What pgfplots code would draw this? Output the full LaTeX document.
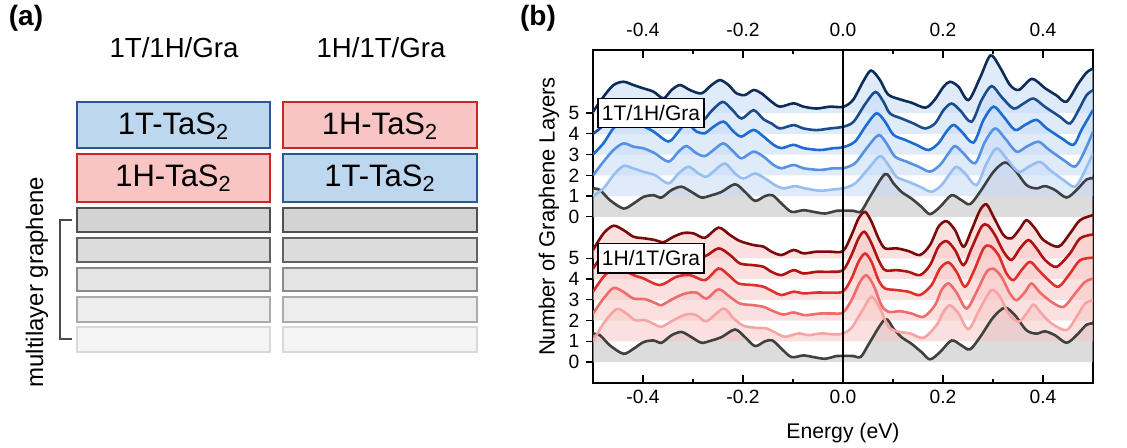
\documentclass[border=0pt]{standalone}
\usepackage{fontspec}
\setmainfont{Liberation Sans}
\usepackage{pgfplots}
\pgfplotsset{compat=1.18}
\usepackage{pgfplotstable}

\definecolor{bA}{HTML}{0E2C58}
\definecolor{bB}{HTML}{1B4C8C}
\definecolor{bC}{HTML}{1C6CD2}
\definecolor{bD}{HTML}{5592E4}
\definecolor{bE}{HTML}{95BFF1}
\definecolor{rA}{HTML}{7A0A0A}
\definecolor{rB}{HTML}{B01212}
\definecolor{rC}{HTML}{E0302C}
\definecolor{rD}{HTML}{EE6C6C}
\definecolor{rE}{HTML}{F7A4A4}
\definecolor{gline}{HTML}{404040}
\definecolor{bfill}{HTML}{C6DBF6}
\definecolor{rfill}{HTML}{F8C6C6}
\definecolor{gfill}{HTML}{C4C4C4}
\definecolor{tbox}{HTML}{BDD7EE}
\definecolor{tedge}{HTML}{2F5597}
\definecolor{hbox}{HTML}{F8C4C4}
\definecolor{hedge}{HTML}{C62828}
\definecolor{fa}{HTML}{D3D3D3}\definecolor{da}{HTML}{505050}
\definecolor{fb}{HTML}{DCDCDC}\definecolor{db}{HTML}{626262}
\definecolor{fc}{HTML}{E4E4E4}\definecolor{dc}{HTML}{8A8A8A}
\definecolor{fd}{HTML}{EDEDED}\definecolor{dd}{HTML}{ABABAB}
\definecolor{fe}{HTML}{F5F5F5}\definecolor{de}{HTML}{D8D8D8}

% projected DOS, value above each curve's baseline (in layer units)
\pgfplotstableread{
x r
-0.500 1.37
-0.486 1.29
-0.466 0.80
-0.439 0.40
-0.419 0.64
-0.399 0.96
-0.379 1.04
-0.363 0.93
-0.343 1.29
-0.323 1.45
-0.303 1.20
-0.283 0.93
-0.263 1.04
-0.243 1.20
-0.216 1.57
-0.196 1.20
-0.176 0.77
-0.156 1.00
-0.141 1.04
-0.123 0.64
-0.103 0.24
-0.079 0.32
-0.059 0.24
-0.036 0.16
-0.013 0.29
0.000 0.30
0.021 0.29
0.036 0.26
0.054 0.97
0.084 2.06
0.101 1.61
0.117 1.20
0.137 0.88
0.157 0.48
0.174 0.13
0.194 0.48
0.217 1.04
0.237 0.80
0.254 0.61
0.274 1.20
0.301 2.17
0.324 2.62
0.344 2.25
0.367 1.53
0.387 1.37
0.404 1.48
0.424 1.29
0.447 0.93
0.467 1.29
0.487 1.80
0.500 1.86
}\gra

\pgfplotstableread{
x r
-0.500 0.06
-0.479 0.79
-0.459 1.35
-0.439 1.51
-0.419 1.35
-0.399 1.19
-0.379 1.03
-0.359 0.71
-0.343 1.11
-0.326 1.35
-0.306 1.11
-0.283 0.95
-0.263 1.35
-0.246 1.59
-0.229 1.35
-0.213 0.95
-0.196 0.87
-0.179 1.11
-0.163 0.95
-0.143 0.55
-0.126 0.31
-0.099 0.47
-0.079 0.31
-0.053 0.22
-0.026 0.31
0.000 0.30
0.020 0.63
0.040 1.51
0.056 2.05
0.074 1.59
0.090 0.90
0.114 0.66
0.137 0.50
0.165 0.26
0.183 0.63
0.201 1.27
0.214 1.51
0.231 1.27
0.251 0.63
0.274 1.70
0.295 2.78
0.314 2.20
0.334 1.35
0.352 1.12
0.378 1.65
0.404 1.20
0.427 0.85
0.447 0.55
0.470 1.40
0.487 1.95
0.500 2.15
}\blueE

\pgfplotstableread{
x r
-0.500 0.00
-0.479 0.42
-0.459 1.15
-0.439 1.45
-0.419 1.35
-0.399 1.20
-0.379 1.00
-0.359 0.65
-0.343 1.00
-0.326 1.20
-0.306 0.95
-0.283 0.60
-0.263 1.10
-0.241 1.54
-0.223 1.20
-0.203 0.74
-0.179 1.14
-0.159 0.70
-0.143 0.50
-0.126 0.26
-0.099 0.42
-0.079 0.26
-0.053 0.18
-0.026 0.26
0.000 0.34
0.021 0.58
0.045 1.46
0.065 2.02
0.081 1.54
0.094 0.98
0.117 0.74
0.141 0.50
0.164 0.26
0.184 0.50
0.201 1.14
0.217 1.46
0.234 1.14
0.257 0.58
0.277 1.62
0.297 2.30
0.317 1.78
0.341 1.22
0.361 1.46
0.381 1.70
0.404 1.30
0.434 0.82
0.454 0.50
0.471 1.14
0.487 1.86
0.500 2.10
}\blueD

\pgfplotstableread{
x r
-0.500 0.00
-0.479 0.55
-0.459 1.27
-0.439 1.59
-0.419 1.43
-0.399 1.35
-0.379 1.11
-0.349 0.63
-0.329 1.11
-0.313 1.51
-0.293 1.11
-0.276 1.03
-0.263 1.27
-0.239 1.59
-0.219 1.11
-0.203 0.87
-0.179 1.19
-0.159 0.87
-0.139 0.47
-0.123 0.31
-0.099 0.47
-0.079 0.31
-0.046 0.22
-0.019 0.31
0.000 0.35
0.024 0.63
0.047 1.43
0.067 1.99
0.084 1.59
0.101 0.95
0.124 0.71
0.147 0.47
0.171 0.22
0.191 0.55
0.207 1.11
0.221 1.43
0.237 1.11
0.261 0.58
0.281 1.67
0.301 2.31
0.321 1.83
0.344 1.19
0.364 1.43
0.387 1.67
0.407 1.27
0.437 0.79
0.461 0.47
0.477 1.19
0.500 2.15
}\blueC

\pgfplotstableread{
x r
-0.500 0.00
-0.479 0.66
-0.459 1.22
-0.439 1.54
-0.419 1.38
-0.399 1.30
-0.376 1.06
-0.349 0.66
-0.329 1.14
-0.313 1.41
-0.293 1.06
-0.276 0.93
-0.259 1.22
-0.239 1.54
-0.219 1.14
-0.203 0.82
-0.179 1.14
-0.159 0.90
-0.139 0.50
-0.123 0.34
-0.099 0.50
-0.079 0.34
-0.046 0.26
-0.019 0.34
0.000 0.34
0.024 0.58
0.047 1.30
0.071 1.94
0.087 1.54
0.104 0.90
0.127 0.66
0.151 0.42
0.174 0.18
0.194 0.50
0.211 1.06
0.224 1.41
0.241 1.06
0.264 0.58
0.284 1.62
0.304 2.26
0.324 1.78
0.347 1.14
0.367 1.38
0.391 1.62
0.411 1.25
0.441 0.74
0.464 0.42
0.481 1.06
0.500 2.10
}\blueB

\pgfplotstableread{
x r
-0.500 0.00
-0.479 0.37
-0.459 1.01
-0.439 1.45
-0.419 1.33
-0.399 1.17
-0.376 1.01
-0.349 0.61
-0.329 1.09
-0.309 1.41
-0.289 1.09
-0.273 0.93
-0.256 1.25
-0.236 1.57
-0.216 1.09
-0.199 0.85
-0.176 1.09
-0.156 0.85
-0.136 0.53
-0.119 0.37
-0.096 0.48
-0.076 0.37
-0.046 0.26
-0.019 0.32
0.000 0.37
0.024 0.61
0.051 1.33
0.074 1.93
0.091 1.49
0.107 0.93
0.131 0.69
0.154 0.45
0.177 0.21
0.197 0.53
0.214 1.09
0.227 1.41
0.244 1.09
0.267 0.53
0.287 1.57
0.307 2.30
0.327 1.81
0.351 1.17
0.371 1.41
0.394 1.65
0.414 1.25
0.441 0.77
0.464 0.45
0.481 1.09
0.500 2.06
}\blueA

\pgfplotstableread{
x r
-0.500 0.40
-0.479 1.20
-0.459 1.57
-0.439 1.36
-0.419 1.04
-0.396 0.96
-0.376 0.88
-0.359 0.78
-0.339 1.04
-0.319 1.22
-0.299 1.20
-0.276 0.99
-0.249 1.48
-0.226 1.12
-0.206 0.83
-0.179 0.64
-0.159 0.56
-0.143 0.32
-0.123 0.16
-0.099 0.40
-0.079 0.24
-0.053 0.32
-0.026 0.32
0.000 0.35
0.017 1.12
0.031 1.92
0.044 2.24
0.057 1.76
0.071 0.96
0.084 0.48
0.107 0.48
0.131 0.35
0.154 0.16
0.174 0.64
0.191 1.52
0.207 1.79
0.224 1.36
0.241 0.56
0.257 1.36
0.274 2.32
0.287 2.60
0.301 2.00
0.321 1.12
0.337 0.96
0.354 1.44
0.367 1.84
0.384 1.44
0.401 0.88
0.431 0.56
0.454 1.20
0.474 1.84
0.500 2.08
}\redE

\pgfplotstableread{
x r
-0.500 0.50
-0.479 1.24
-0.459 1.58
-0.439 1.40
-0.419 1.12
-0.396 1.00
-0.376 0.90
-0.359 0.78
-0.339 1.00
-0.319 1.18
-0.299 1.20
-0.276 1.10
-0.249 1.48
-0.226 1.16
-0.206 0.75
-0.179 0.67
-0.159 0.59
-0.143 0.35
-0.123 0.19
-0.099 0.43
-0.079 0.27
-0.053 0.35
-0.026 0.35
0.000 0.43
0.017 1.16
0.031 1.96
0.043 2.28
0.057 1.72
0.071 0.92
0.084 0.43
0.107 0.43
0.131 0.35
0.154 0.19
0.174 0.67
0.191 1.56
0.207 1.83
0.224 1.40
0.241 0.67
0.257 1.48
0.277 2.52
0.289 2.60
0.304 2.12
0.321 1.32
0.337 0.92
0.354 1.48
0.371 1.88
0.387 1.48
0.404 0.92
0.427 0.59
0.454 1.24
0.474 1.96
0.500 2.15
}\redD

\pgfplotstableread{
x r
-0.500 0.39
-0.479 1.11
-0.459 1.51
-0.439 1.43
-0.419 1.19
-0.399 1.03
-0.366 0.71
-0.333 1.11
-0.306 1.19
-0.276 0.95
-0.249 1.51
-0.229 1.19
-0.209 0.79
-0.179 0.71
-0.159 0.63
-0.139 0.39
-0.123 0.23
-0.099 0.39
-0.079 0.31
-0.053 0.35
-0.026 0.35
0.000 0.40
0.017 1.03
0.031 1.83
0.044 2.23
0.057 1.83
0.071 0.95
0.084 0.55
0.107 0.47
0.131 0.39
0.154 0.23
0.177 0.71
0.194 1.51
0.211 1.80
0.227 1.35
0.244 0.63
0.261 1.35
0.281 2.47
0.294 2.60
0.311 2.15
0.327 1.27
0.341 0.95
0.357 1.43
0.374 1.83
0.391 1.43
0.411 0.95
0.431 0.63
0.454 1.27
0.474 1.91
0.500 2.03
}\redC

\pgfplotstableread{
x r
-0.500 0.34
-0.479 1.06
-0.459 1.57
-0.439 1.38
-0.419 1.06
-0.396 1.03
-0.373 0.82
-0.363 0.74
-0.339 1.06
-0.316 1.30
-0.293 1.35
-0.273 1.06
-0.249 1.51
-0.226 1.14
-0.206 0.82
-0.179 0.74
-0.159 0.66
-0.139 0.45
-0.119 0.29
-0.099 0.39
-0.076 0.26
-0.046 0.34
-0.019 0.34
0.000 0.39
0.017 0.98
0.034 1.86
0.047 2.18
0.061 1.70
0.077 0.74
0.091 0.42
0.114 0.45
0.137 0.34
0.161 0.18
0.184 0.74
0.197 1.47
0.211 1.79
0.227 1.35
0.247 0.58
0.267 1.38
0.287 2.34
0.301 2.50
0.317 2.10
0.334 1.30
0.347 0.98
0.364 1.38
0.377 1.79
0.394 1.35
0.417 0.90
0.441 0.66
0.464 1.30
0.484 1.86
0.500 2.02
}\redB

\pgfplotstableread{
x r
-0.500 0.00
-0.479 0.86
-0.453 1.55
-0.433 1.34
-0.416 1.02
-0.396 1.02
-0.376 0.81
-0.363 0.70
-0.339 1.02
-0.313 1.30
-0.293 1.26
-0.273 0.97
-0.239 1.58
-0.219 1.10
-0.199 0.75
-0.173 0.65
-0.153 0.62
-0.136 0.43
-0.116 0.22
-0.089 0.38
-0.069 0.30
-0.043 0.38
-0.016 0.33
0.000 0.38
0.017 0.65
0.037 1.42
0.057 2.14
0.074 1.58
0.091 0.70
0.111 0.46
0.134 0.38
0.161 0.17
0.187 0.78
0.201 1.42
0.214 1.74
0.231 1.34
0.251 0.59
0.274 1.58
0.297 2.47
0.314 2.14
0.331 1.34
0.351 0.94
0.367 1.34
0.381 1.77
0.397 1.34
0.417 0.86
0.447 0.54
0.467 1.18
0.484 1.82
0.500 1.98
}\redA

% shaded area of one ridge, down to its baseline: table, baseline, fill style
\newcommand{\ridgefill}[3]{%
  \addplot[draw=none, #3, smooth] table[x=x, y expr=\thisrow{r}+#2] {#1}
    -- (axis cs:0.5,#2) -- (axis cs:-0.5,#2) -- cycle;
}
% the curve itself: table, baseline, colour
\newcommand{\ridgeline}[3]{%
  \addplot[draw=#3, line width=1.3pt, smooth] table[x=x, y expr=\thisrow{r}+#2] {#1};
}
% one layer box of the schematic: x0, x1, y0, y1, fill, edge, width
\newcommand{\layerbox}[7]{%
  \addplot[fill=#5, draw=#6, line width=#7] coordinates {(#1,#3) (#2,#3) (#2,#4) (#1,#4)} -- cycle;
}

\begin{document}
\begin{tikzpicture}
\useasboundingbox (0,0) rectangle (563.5pt,223.5pt);

% ---------- panel (a): schematic, drawn in pixel units ----------
\begin{axis}[
    at={(0,0)}, anchor=south west, scale only axis,
    width=563.5pt, height=223.5pt,
    xmin=0, xmax=1127, ymin=0, ymax=447, y dir=reverse,
    hide axis, clip=false,
]
\layerbox{77}{270}{102}{148}{tbox}{tedge}{0.8pt}
\layerbox{77}{270}{154}{202}{hbox}{hedge}{0.8pt}
\layerbox{283}{477}{102}{148}{hbox}{hedge}{0.8pt}
\layerbox{283}{477}{154}{202}{tbox}{tedge}{0.8pt}
\layerbox{77}{270}{208}{232}{fa}{da}{1pt}
\layerbox{283}{477}{208}{232}{fa}{da}{1pt}
\layerbox{77}{270}{238}{262}{fb}{db}{1pt}
\layerbox{283}{477}{238}{262}{fb}{db}{1pt}
\layerbox{77}{270}{268}{291}{fc}{dc}{1pt}
\layerbox{283}{477}{268}{291}{fc}{dc}{1pt}
\layerbox{77}{270}{297}{322}{fd}{dd}{1pt}
\layerbox{283}{477}{297}{322}{fd}{dd}{1pt}
\layerbox{77}{270}{327}{352}{fe}{de}{1pt}
\layerbox{283}{477}{327}{352}{fe}{de}{1pt}
\addplot[draw=gray!60!black, line width=0.8pt] coordinates {(72,220) (60,220) (60,339) (72,339)};

\node[font=\bfseries\fontsize{14}{16}\selectfont] at (axis cs:26,18) {(a)};
\node[font=\bfseries\fontsize{14}{16}\selectfont] at (axis cs:538,18) {(b)};
\node[font=\fontsize{13.8}{16}\selectfont] at (axis cs:174,48) {1T/1H/Gra};
\node[font=\fontsize{13.8}{16}\selectfont] at (axis cs:381,48) {1H/1T/Gra};
\node[font=\fontsize{15.5}{18}\selectfont] at (axis cs:173.5,126) {1T-TaS\textsubscript{2}};
\node[font=\fontsize{15.5}{18}\selectfont] at (axis cs:173.5,178) {1H-TaS\textsubscript{2}};
\node[font=\fontsize{15.5}{18}\selectfont] at (axis cs:380,126) {1H-TaS\textsubscript{2}};
\node[font=\fontsize{15.5}{18}\selectfont] at (axis cs:380,178) {1T-TaS\textsubscript{2}};
\node[rotate=90, font=\fontsize{12}{14}\selectfont] at (axis cs:37,282) {multilayer graphene};
\end{axis}

% ---------- panel (b): data ----------
\begin{axis}[
    at={(296.5pt,32pt)}, anchor=south west, scale only axis,
    width=250pt, height=166.5pt,
    xmin=-0.5, xmax=0.5, ymin=-1.01, ymax=15.04,
    axis line style={line width=0.6pt},
    tick align=inside,
    xtick={-0.4,-0.2,0,0.2,0.4},
    xticklabels={-0.4,-0.2,0.0,0.2,0.4},
    minor xtick={-0.3,-0.1,0.1,0.3},
    major tick length=4pt, minor tick length=2.2pt,
    xtick pos=both, xticklabel pos=left,
    ytick=\empty,
    tick style={line width=0.6pt, black},
    tick label style={font=\fontsize{9.6}{11}\selectfont},
    xlabel={Energy (eV)},
    xlabel style={font=\fontsize{10.6}{12}\selectfont, at={(rel axis cs:0.5,-0.150)}, anchor=center},
]
% shaded areas first; upper group 1T/1H/Gra has baseline of layer n at 7+n
\ridgefill{\gra}{7}{fill=gfill, fill opacity=0.6}
\ridgefill{\blueA}{8}{fill=bfill, fill opacity=0.55}
\ridgefill{\blueB}{9}{fill=bfill, fill opacity=0.55}
\ridgefill{\blueC}{10}{fill=bfill, fill opacity=0.55}
\ridgefill{\blueD}{11}{fill=bfill, fill opacity=0.55}
\ridgefill{\blueE}{12}{fill=bfill, fill opacity=0.55}
\ridgefill{\gra}{0}{fill=gfill, fill opacity=0.6}
\ridgefill{\redA}{1}{fill=rfill, fill opacity=0.55}
\ridgefill{\redB}{2}{fill=rfill, fill opacity=0.55}
\ridgefill{\redC}{3}{fill=rfill, fill opacity=0.55}
\ridgefill{\redD}{4}{fill=rfill, fill opacity=0.55}
\ridgefill{\redE}{5}{fill=rfill, fill opacity=0.55}
% curves
\ridgeline{\gra}{7}{gline}
\ridgeline{\blueA}{8}{bE}
\ridgeline{\blueB}{9}{bD}
\ridgeline{\blueC}{10}{bC}
\ridgeline{\blueD}{11}{bB}
\ridgeline{\blueE}{12}{bA}
\ridgeline{\gra}{0}{gline}
\ridgeline{\redA}{1}{rE}
\ridgeline{\redB}{2}{rD}
\ridgeline{\redC}{3}{rC}
\ridgeline{\redD}{4}{rB}
\ridgeline{\redE}{5}{rA}

\addplot[black, line width=0.6pt] coordinates {(0,-1.01) (0,15.04)};

\node[draw=black, fill=white, line width=0.6pt, inner xsep=2pt, inner ysep=3.5pt,
      font=\fontsize{10.5}{12}\selectfont] at (axis cs:-0.384,12) {1T/1H/Gra};
\node[draw=black, fill=white, line width=0.6pt, inner xsep=2pt, inner ysep=3.5pt,
      font=\fontsize{10.5}{12}\selectfont] at (axis cs:-0.384,5) {1H/1T/Gra};
\node[rotate=90, font=\fontsize{10.6}{12}\selectfont] at (rel axis cs:1.042,0.5)
      {Projected DOS of 1T-TaS\textsubscript{2} layer};
\end{axis}

% ---------- panel (b): top tick labels and layer ticks ----------
\begin{axis}[
    at={(296.5pt,32pt)}, anchor=south west, scale only axis,
    width=250pt, height=166.5pt,
    xmin=-0.5, xmax=0.5, ymin=-1.01, ymax=15.04,
    axis line style={draw=none},
    xtick={-0.4,-0.2,0,0.2,0.4},
    xticklabels={-0.4,-0.2,0.0,0.2,0.4},
    xtick pos=right, xticklabel pos=right,
    xtick style={draw=none},
    ytick={0,1,2,3,4,5,7,8,9,10,11,12},
    yticklabels={0,1,2,3,4,5,0,1,2,3,4,5},
    ytick pos=left, tick align=outside,
    major tick length=3.3pt,
    ytick style={line width=0.6pt, black},
    tick label style={font=\fontsize{9.6}{11}\selectfont},
    ylabel={Number of Graphene Layers},
    ylabel style={font=\fontsize{11}{13}\selectfont, at={(rel axis cs:-0.088,0.5)}, anchor=center},
]
\addplot[draw=none] coordinates {(0,0) (0.1,1)};
\end{axis}
\end{tikzpicture}
\end{document}
